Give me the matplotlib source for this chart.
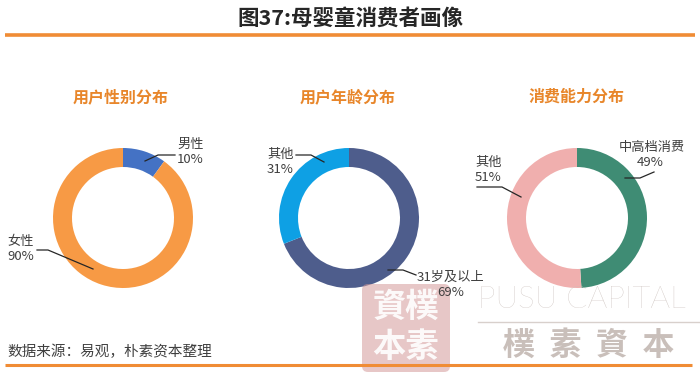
import matplotlib
matplotlib.use("Agg")
import matplotlib.pyplot as plt
from matplotlib.patches import FancyBboxPatch

plt.rcParams['font.family'] = ['Noto Sans CJK SC', 'DejaVu Sans']

title = "图37:母婴童消费者画像"
source = "数据来源：易观，朴素资本整理"

subtitles = ["用户性别分布", "用户年龄分布", "消费能力分布"]
gender_labels = ["男性", "女性"]
gender_values = [10, 90]
age_labels = ["31岁及以上", "其他"]
age_values = [69, 31]
spend_labels = ["中高档消费", "其他"]
spend_values = [49, 51]

gender_colors = ["#4472C4", "#F79A45"]
age_colors = ["#4E5D8C", "#0EA0E4"]
spend_colors = ["#3F8C74", "#F0AFAE"]

W, H = 700, 374
fig = plt.figure(figsize=(7.0, 3.74), dpi=100)
ax = fig.add_axes([0, 0, 1, 1])

def Y(y):
    return H - y

R = 70
RW = 19
centers = [(123, 218), (349, 218), (577, 218)]
datasets = [(gender_values, gender_colors), (age_values, age_colors), (spend_values, spend_colors)]
for (cx, cy), (vals, cols) in zip(centers, datasets):
    ax.pie(vals, colors=cols, startangle=90, counterclock=False, radius=R,
           center=(cx, Y(cy)), wedgeprops=dict(width=RW, edgecolor='none'), frame=False)

ax.set_xlim(0, W)
ax.set_ylim(0, H)
ax.set_aspect('auto')
ax.axis('off')

# title and lines
ax.text(350, Y(18), title, ha='center', va='center', fontsize=15.5, fontweight='bold', color='#262626')
ax.plot([5, 695], [Y(35), Y(35)], color='#F08C35', lw=2.6, solid_capstyle='butt')

sub_x = [121, 348, 577]
for sx, s in zip(sub_x, subtitles):
    ax.text(sx, Y(97), s, ha='center', va='center', fontsize=11.5, fontweight='bold', color='#E8862A')

lab_c = '#404040'
lab_fs = 9.5

def label(x, y, txt, ha='left'):
    ax.text(x, Y(y), txt, ha=ha, va='center', fontsize=lab_fs, color=lab_c, linespacing=1.2)

def leader(pts):
    ax.plot([p[0] for p in pts], [Y(p[1]) for p in pts], color='#262626', lw=0.9)

# chart 1
label(177, 152, f"{gender_labels[0]}\n{gender_values[0]}%")
leader([(145, 161), (158, 155), (175, 155)])
label(7, 249, f"{gender_labels[1]}\n{gender_values[1]}%")
leader([(37, 250), (48, 250), (93, 269)])

# chart 2
label(267, 162, f"{age_labels[1]}\n{age_values[1]}%")
leader([(296, 155), (311, 155), (324, 162)])
ax.text(417, Y(277), age_labels[0], ha='left', va='center', fontsize=lab_fs, color=lab_c)
ax.text(451, Y(292), f"{age_values[0]}%", ha='center', va='center', fontsize=lab_fs, color=lab_c)
leader([(388, 270), (403, 270), (416, 275)])

# chart 3
ax.text(652, Y(147), spend_labels[0], ha='center', va='center', fontsize=lab_fs, color=lab_c)
ax.text(650, Y(162), f"{spend_values[0]}%", ha='center', va='center', fontsize=lab_fs, color=lab_c)
leader([(625, 178), (640, 178), (654, 172)])
label(475, 170, f"{spend_labels[1]}\n{spend_values[1]}%")
leader([(477, 187), (502, 187), (521, 197)])

# source and bottom line
ax.text(7, Y(352), source, ha='left', va='center', fontsize=10.5, color='#404040')
ax.plot([5, 692], [Y(365), Y(365)], color='#F08C35', lw=2.2, solid_capstyle='butt')

# watermark
box = FancyBboxPatch((362, Y(372)), 88, 88, boxstyle="round,pad=0,rounding_size=6",
                     facecolor='#D49A9A', edgecolor='none', alpha=0.55)
ax.add_patch(box)
wm_font = ['Noto Sans CJK TC', 'Noto Sans CJK SC']
ax.text(406, Y(307), "資樸", ha='center', va='center', fontsize=24, fontweight='bold',
        color='white', family=wm_font, alpha=0.9)
ax.text(406, Y(348), "本素", ha='center', va='center', fontsize=24, fontweight='bold',
        color='white', family=wm_font, alpha=0.9)
ax.text(478, Y(299), "PUSU CAPITAL", ha='left', va='center', fontsize=22.5, color='#C9BFBA',
        family=['Lato', 'DejaVu Sans'], fontweight='light')
ax.plot([478, 700], [Y(322), Y(322)], color='#D8D0CC', lw=1)
ax.text(589, Y(346), "樸  素  資  本", ha='center', va='center', fontsize=23, fontweight='bold',
        color='#C9BFBA', family=wm_font)

fig.savefig("out.png", dpi=100)
